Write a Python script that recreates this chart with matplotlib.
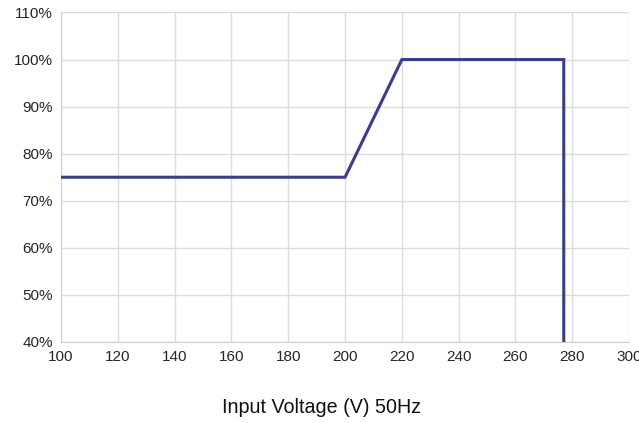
import matplotlib
matplotlib.use("Agg")
import matplotlib.pyplot as plt
from matplotlib.ticker import FuncFormatter

voltage = [100, 200, 220, 277, 277]
load_pct = [75, 75, 100, 100, 40]
x_ticks = list(range(100, 301, 20))
y_ticks = list(range(40, 111, 10))

plt.rcParams['font.family'] = ['Liberation Sans', 'DejaVu Sans']
fig = plt.figure(figsize=(6.39, 4.23), dpi=100)
ax = fig.add_axes([0.0955, 0.1915, 0.889, 0.779])
ax.plot(voltage, load_pct, color='#3a3a98', lw=2.2, solid_joinstyle='miter', zorder=3)
ax.set_xlim(100, 300)
ax.set_ylim(40, 110)
ax.set_xticks(x_ticks)
ax.set_yticks(y_ticks)
ax.yaxis.set_major_formatter(FuncFormatter(lambda v, p: f"{int(v)}%"))
ax.grid(True, color='#dcdcdc', lw=1)
for s in ax.spines.values():
    s.set_visible(False)
ax.spines['left'].set_visible(True)
ax.spines['bottom'].set_visible(True)
ax.spines['left'].set_color('#d0d0d0')
ax.spines['bottom'].set_color('#d0d0d0')
ax.tick_params(length=0, labelsize=11, labelcolor='#262626', pad=6)
fig.text(0.504, 1 - 407 / 423, 'Input Voltage (V) 50Hz', fontsize=14.2,
         color='#111111', ha='center', va='center')
fig.savefig('out.png', dpi=100)
